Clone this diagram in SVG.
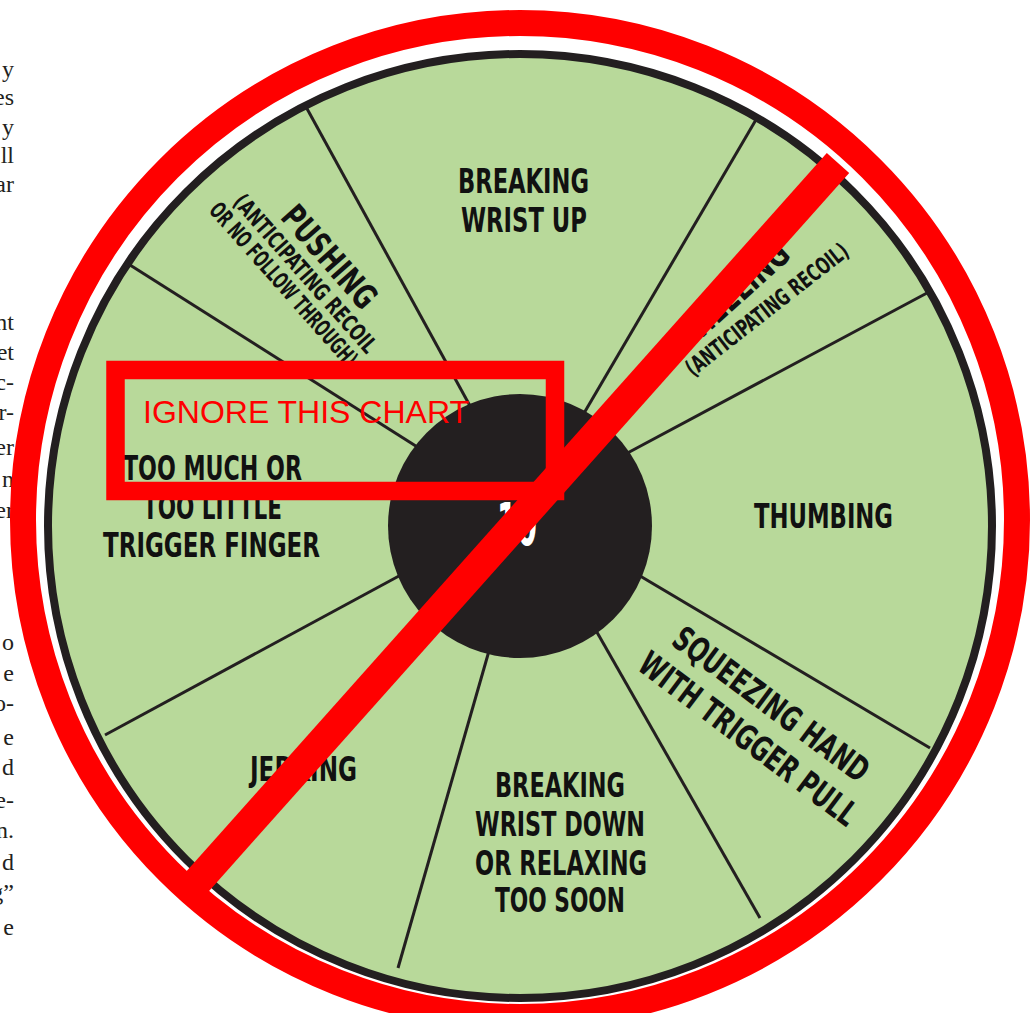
<svg xmlns="http://www.w3.org/2000/svg" width="1032" height="1013" viewBox="0 0 1032 1013">
<style>
.body{font-family:"Liberation Serif","Times New Roman",serif;font-size:24px;fill:#231f20;text-anchor:end}
.t{font-family:"DejaVu Sans Condensed","DejaVu Sans",sans-serif;font-weight:bold;font-size:34px;fill:#111;text-anchor:middle}
.s{font-family:"DejaVu Sans Condensed","DejaVu Sans",sans-serif;font-weight:bold;font-size:23px;fill:#111;text-anchor:middle}
.spoke{stroke:#231f20;stroke-width:3;fill:none}
.red{stroke:#ff0000;fill:none}
</style>
<rect width="1032" height="1013" fill="#ffffff"/>
<g id="body-text">
<text class="body" x="14" y="77">y</text>
<text class="body" x="14" y="105">es</text>
<text class="body" x="14" y="135">y</text>
<text class="body" x="14" y="163">ll</text>
<text class="body" x="14" y="192">ar</text>
<text class="body" x="14" y="330">nt</text>
<text class="body" x="14" y="360">et</text>
<text class="body" x="14" y="390">c-</text>
<text class="body" x="14" y="420">r-</text>
<text class="body" x="14" y="455">er</text>
<text class="body" x="14" y="487">n</text>
<text class="body" x="14" y="518">er</text>
<text class="body" x="14" y="650">o</text>
<text class="body" x="14" y="681">e</text>
<text class="body" x="14" y="711">o-</text>
<text class="body" x="14" y="745">e</text>
<text class="body" x="14" y="775">d</text>
<text class="body" x="14" y="808">e-</text>
<text class="body" x="14" y="838">n.</text>
<text class="body" x="14" y="870">d</text>
<text class="body" x="14" y="900">g”</text>
<text class="body" x="14" y="935">e</text>
</g>
<g id="wheel">
<circle cx="520" cy="526" r="472" fill="#b8d99a" stroke="#231f20" stroke-width="8"/>
</g>
<g id="connectors">
<line class="spoke" x1="305" y1="105" x2="475" y2="415"/>
<line class="spoke" x1="757" y1="118" x2="580" y2="420"/>
<line class="spoke" x1="927" y1="293" x2="620" y2="457"/>
<line class="spoke" x1="930" y1="748" x2="630" y2="570"/>
<line class="spoke" x1="760" y1="918" x2="590" y2="620"/>
<line class="spoke" x1="398" y1="968" x2="495" y2="630"/>
<line class="spoke" x1="105" y1="735" x2="410" y2="570"/>
<line class="spoke" x1="130" y1="265" x2="430" y2="455"/>
</g>
<g id="node-center">
<circle cx="520" cy="526" r="132" fill="#231f20"/>
<text x="517" y="545" font-family="DejaVu Sans Condensed, DejaVu Sans, sans-serif" font-weight="bold" font-size="58" fill="#ffffff" text-anchor="middle" textLength="40" lengthAdjust="spacingAndGlyphs">10</text>
</g>
<g id="node-breaking-wrist-up">
<text class="t" x="523.5" y="193" textLength="131" lengthAdjust="spacingAndGlyphs">BREAKING</text>
<text class="t" x="524" y="232" textLength="126" lengthAdjust="spacingAndGlyphs">WRIST UP</text>
</g>
<g id="node-heeling">
<text class="t" x="747" y="298" transform="rotate(-42 747 298)" textLength="122" lengthAdjust="spacingAndGlyphs">HEELING</text>
<text class="s" x="771.7" y="315.7" transform="rotate(-38 771.7 315.7)" textLength="200" lengthAdjust="spacingAndGlyphs">(ANTICIPATING RECOIL)</text>
</g>
<g id="node-thumbing">
<text class="t" x="823.5" y="528" textLength="139" lengthAdjust="spacingAndGlyphs">THUMBING</text>
</g>
<g id="node-squeezing">
<text class="t" x="764.2" y="713.7" transform="rotate(36.6 764.2 713.7)" textLength="235" lengthAdjust="spacingAndGlyphs">SQUEEZING HAND</text>
<text class="t" x="741.2" y="748.3" transform="rotate(37 741.2 748.3)" textLength="264" lengthAdjust="spacingAndGlyphs">WITH TRIGGER PULL</text>
</g>
<g id="node-breaking-wrist-down">
<text class="t" x="560" y="797" textLength="130" lengthAdjust="spacingAndGlyphs">BREAKING</text>
<text class="t" x="560" y="836" textLength="170" lengthAdjust="spacingAndGlyphs">WRIST DOWN</text>
<text class="t" x="561" y="875" textLength="172" lengthAdjust="spacingAndGlyphs">OR RELAXING</text>
<text class="t" x="560" y="912" textLength="130" lengthAdjust="spacingAndGlyphs">TOO SOON</text>
</g>
<g id="node-jerking">
<text class="t" x="303.5" y="781" textLength="107" lengthAdjust="spacingAndGlyphs">JERKING</text>
</g>
<g id="node-trigger-finger">
<text class="t" x="212.5" y="480" textLength="179" lengthAdjust="spacingAndGlyphs">TOO MUCH OR</text>
<text class="t" x="212.5" y="519" textLength="139" lengthAdjust="spacingAndGlyphs">TOO LITTLE</text>
<text class="t" x="211.5" y="557" textLength="217" lengthAdjust="spacingAndGlyphs">TRIGGER FINGER</text>
</g>
<g id="node-pushing">
<text class="t" x="320.6" y="264.6" transform="rotate(48.5 320.6 264.6)" textLength="125" lengthAdjust="spacingAndGlyphs">PUSHING</text>
<text class="s" x="299.3" y="278.9" transform="rotate(48.5 299.3 278.9)" textLength="203" lengthAdjust="spacingAndGlyphs">(ANTICIPATING RECOIL</text>
<text class="s" x="277.5" y="289.7" transform="rotate(48.5 277.5 289.7)" textLength="210" lengthAdjust="spacingAndGlyphs">OR NO FOLLOW THROUGH)</text>
</g>
<g id="overlay">
<circle class="red" cx="520" cy="520" r="497" stroke-width="26"/>
<rect class="red" x="115.5" y="370" width="439.5" height="121" stroke-width="18.5"/>
<line class="red" x1="838" y1="163" x2="197" y2="882" stroke-width="30"/>
<text x="143" y="423" font-family="Liberation Sans, Arial, sans-serif" font-size="32" fill="#ff0000">IGNORE THIS CHART</text>
</g>
</svg>
